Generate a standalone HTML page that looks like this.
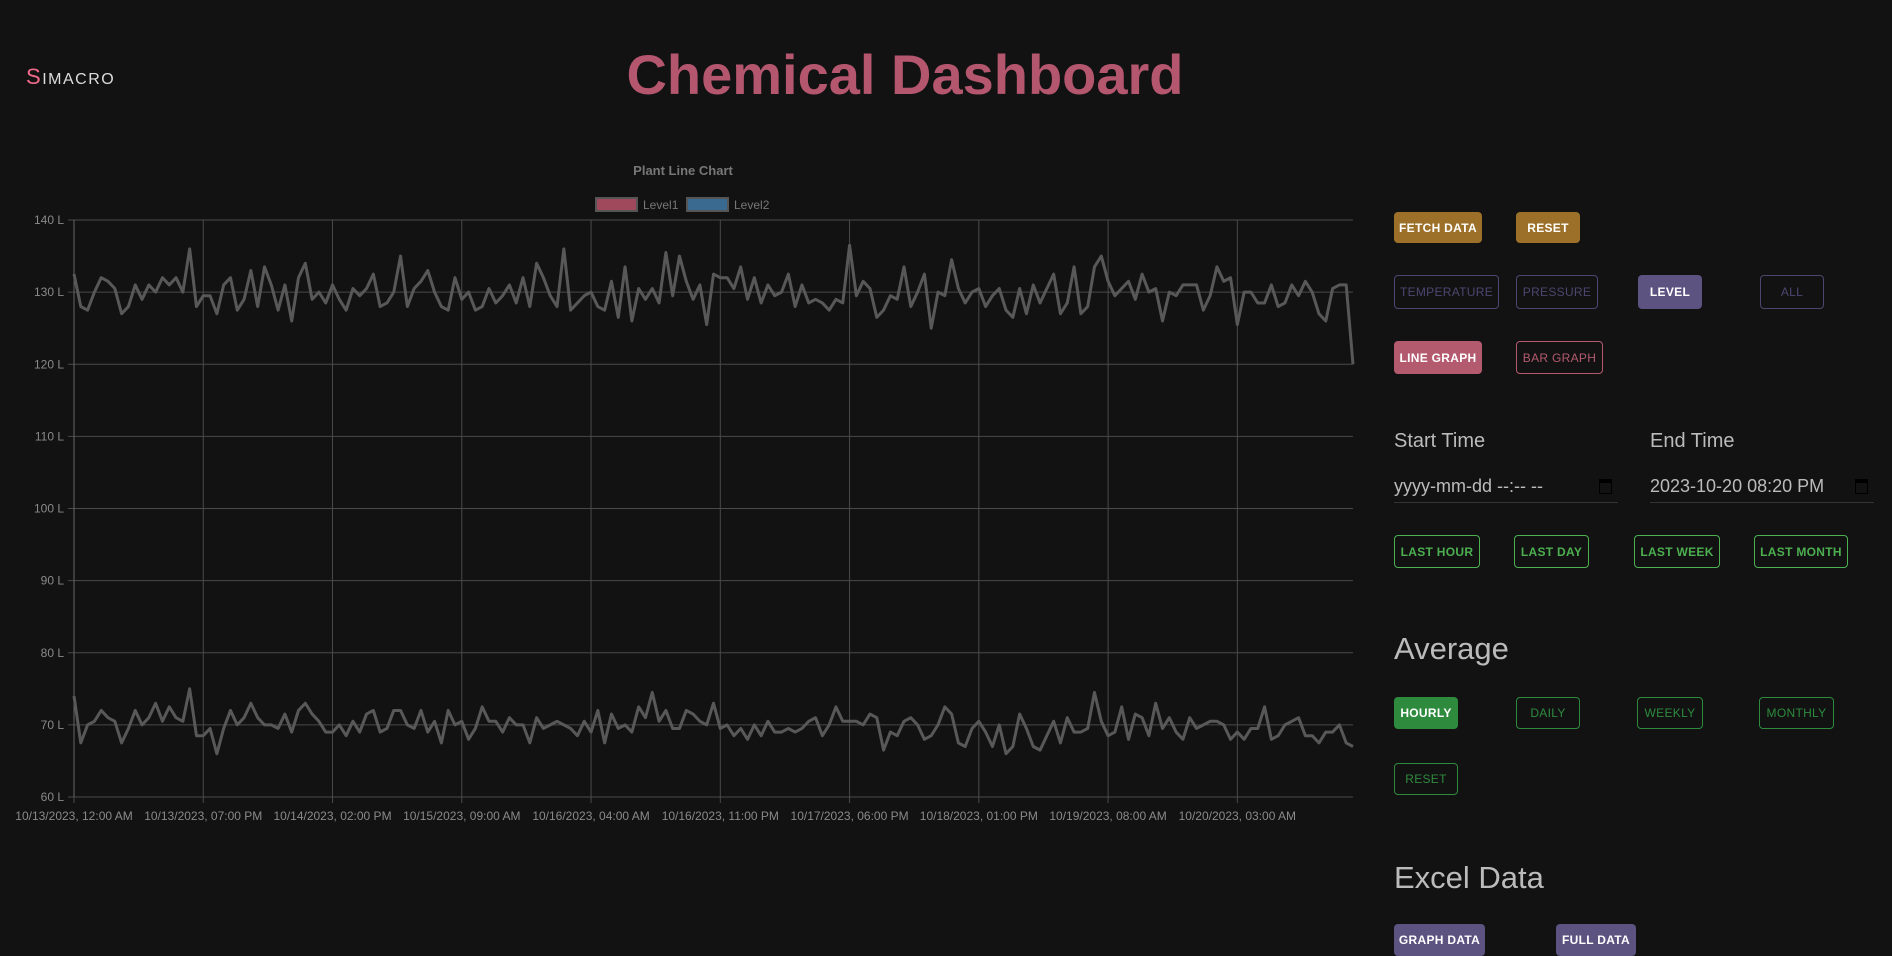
<!DOCTYPE html>
<html><head><meta charset="utf-8">
<style>
body{margin:0;width:1892px;height:946px;background:#121212;overflow:hidden;font-family:"Liberation Sans",sans-serif;position:relative}
.abs{position:absolute}
.btn{position:absolute;box-sizing:border-box;border-radius:4px;font-size:12px;font-weight:bold;display:flex;align-items:center;justify-content:center;letter-spacing:.3px}
.gold{background:#9c7028;color:#fff}
.pf{background:#5c5380;color:#fff}
.po{border:1.5px solid #4e4670;color:#4e4670;font-weight:normal}
.kf{background:#b35a6f;color:#fff}
.ko{border:1.5px solid #b35a6f;color:#b35a6f;font-weight:normal}
.go{border:1.5px solid #4caf50;color:#4caf50}
.gf{background:#2e8b3e;color:#fff}
.lbl{position:absolute;color:#bbb;font-size:20px}
.h2{position:absolute;color:#bbb;font-size:31px}
.inp{position:absolute;border-bottom:1px solid #333;color:#bbb;font-size:18px;height:34px;line-height:34px;box-sizing:border-box}
.cal{position:absolute;right:6px;top:10px;width:11px;height:10px;border:1.5px solid #000;border-top-width:4px}
</style></head><body>
<div class="abs" style="left:26px;top:64px;font-size:16px;color:#ddd;letter-spacing:1.5px"><span style="color:#f06b8a;font-size:22px">S</span>IMACRO</div>
<div class="abs" style="left:0;width:1810px;top:42px;text-align:center;font-size:56px;font-weight:bold;color:#b5566f">Chemical Dashboard</div>

<svg id="chart" class="abs" style="left:0;top:150px" width="1380" height="700"></svg>

<div class="btn gold" style="left:1394px;top:212px;width:88px;height:31px">FETCH DATA</div>
<div class="btn gold" style="left:1516px;top:212px;width:64px;height:31px">RESET</div>
<div class="btn po" style="left:1394px;top:275px;width:105px;height:34px">TEMPERATURE</div>
<div class="btn po" style="left:1516px;top:275px;width:82px;height:34px">PRESSURE</div>
<div class="btn pf" style="left:1638px;top:275px;width:64px;height:34px">LEVEL</div>
<div class="btn po" style="left:1760px;top:275px;width:64px;height:34px">ALL</div>
<div class="btn kf" style="left:1394px;top:341px;width:88px;height:33px">LINE GRAPH</div>
<div class="btn ko" style="left:1516px;top:341px;width:87px;height:33px">BAR GRAPH</div>

<div class="lbl" style="left:1394px;top:430px">Start Time</div>
<div class="lbl" style="left:1650px;top:430px">End Time</div>
<div class="inp" style="left:1394px;top:469px;width:224px">yyyy-mm-dd --:-- --<span class="cal"></span></div>
<div class="inp" style="left:1650px;top:469px;width:224px">2023-10-20 08:20 PM<span class="cal"></span></div>

<div class="btn go" style="left:1394px;top:535px;width:86px;height:33px">LAST HOUR</div>
<div class="btn go" style="left:1514px;top:535px;width:75px;height:33px">LAST DAY</div>
<div class="btn go" style="left:1634px;top:535px;width:86px;height:33px">LAST WEEK</div>
<div class="btn go" style="left:1754px;top:535px;width:94px;height:33px">LAST MONTH</div>

<div class="h2" style="left:1394px;top:631px">Average</div>
<div class="btn gf" style="left:1394px;top:697px;width:64px;height:32px">HOURLY</div>
<div class="btn go" style="left:1516px;top:697px;width:64px;height:32px;font-weight:normal;border-color:#2e8b3e;color:#2e8b3e">DAILY</div>
<div class="btn go" style="left:1637px;top:697px;width:66px;height:32px;font-weight:normal;border-color:#2e8b3e;color:#2e8b3e">WEEKLY</div>
<div class="btn go" style="left:1759px;top:697px;width:75px;height:32px;font-weight:normal;border-color:#2e8b3e;color:#2e8b3e">MONTHLY</div>
<div class="btn go" style="left:1394px;top:763px;width:64px;height:32px;font-weight:normal;border-color:#2e8b3e;color:#2e8b3e">RESET</div>

<div class="h2" style="left:1394px;top:860px">Excel Data</div>
<div class="btn pf" style="left:1394px;top:924px;width:91px;height:32px">GRAPH DATA</div>
<div class="btn pf" style="left:1556px;top:924px;width:80px;height:32px">FULL DATA</div>

<script>
const level1 = [
132.5,128,127.5,130,132,131.5,130.5,127,128,131,
129,131,130,132,131,132,130,136,128,129.5,
129.5,127,131,132,127.5,129,133,128,133.5,131,
127.5,131,126,132,134,129,130,128.5,131,129,
127.5,130.5,129.5,130.5,132.5,128,128.5,130,135,128,
130.5,131.5,133,130,128,127.5,132,129,130,127.5,
128,130.5,128.5,129.5,131,128.5,132,128,134,132,
129.5,128,136,127.5,128.5,129.5,130,128,127.5,131.5,
126.5,133.5,126,130.5,129,130.5,128.5,135.5,129.5,135,
131.5,129,131,125.5,132.5,132,132,130.5,133.5,129,
132,128.5,131,129.5,130,132.5,128,131,128.5,
129,128.5,127.5,129,128.5,136.5,129.5,131.5,130.5,126.5,
127.5,129.5,129,133.5,128,130,132.5,125,130,129.5,
134.5,130.5,128.5,130,130.5,128,129.5,130.5,127.5,
126.5,130.5,127,131,128.5,130.5,132.5,127,128.5,133.5,
127,128,133.5,135,131.5,129.5,130.5,131.5,129,132.5,
130,130.5,126,130,129.5,131,131,131,127.5,129.5,
133.5,131.5,132,125.5,130,130,128.5,128.5,131,128,
128.5,131,129.5,131.5,130,127,126,130.5,131,131,120];
const level2 = [
74,67.5,70,70.5,72,71,70.5,67.5,69.5,72,
70,71,73,70.5,72.5,71,70.5,75,68.5,68.5,
69.5,66,69.5,72,70,71,73,71,70,70,
69.5,71.5,69,72,73,71.5,70.5,69,69,70,
68.5,70.5,69,71.5,72,69,69.5,72,72,70,
69.5,72,69,70.5,67.5,72,70,70.5,68,69.5,
72.5,70.5,70.5,69,71,70,70,67.5,71,69.5,
70,70.5,70,69.5,68.5,70.5,69,72,67.5,71.5,
69.5,70,69,72.5,71,74.5,70.5,72,69.5,69.5,
72,71.5,70.5,70,73,69.5,70,68.5,69.5,68,
70,68.5,70.5,69,69,69.5,69,69.5,70.5,71,
68.5,70,72.5,70.5,70.5,70.5,70,71.5,71,66.5,
69,68.5,70.5,71,70,68,68.5,70,72.5,71.5,
67.5,67,69.5,70.5,69,67,70,66,67,71.5,
69.5,67,66.5,68.5,70.5,67.5,71,69,69,69.5,
74.5,70.5,68.5,69,72.5,68,71.5,71,68.5,73,
69.5,71,69,68,71,69.5,70,70.5,70.5,70,
68,69,68,69.5,69.5,72.5,68,68.5,70,70.5,
71,68.5,68.5,67.5,69,69,70,67.5,67];
const yTicks = [60,70,80,90,100,110,120,130,140];
const xLabels = ["10/13/2023, 12:00 AM","10/13/2023, 07:00 PM","10/14/2023, 02:00 PM","10/15/2023, 09:00 AM","10/16/2023, 04:00 AM","10/16/2023, 11:00 PM","10/17/2023, 06:00 PM","10/18/2023, 01:00 PM","10/19/2023, 08:00 AM","10/20/2023, 03:00 AM"];
const tickStep = 19;
const seriesNames = ["Level1","Level2"];

const NS="http://www.w3.org/2000/svg";
const svg=document.getElementById('chart');
const OY=150, L=74, R=1353, T=220-OY, B=797-OY;
const N=Math.max(level1.length,level2.length);
const xs=i=>L+i*(R-L)/(N-1);
const ys=v=>B-(v-60)*(B-T)/80;
function mk(tag,at,txt){const e=document.createElementNS(NS,tag);for(const k in at)e.setAttribute(k,at[k]);if(txt!=null)e.textContent=txt;svg.appendChild(e);return e;}
yTicks.forEach(v=>{
  const g=mk('line',{x1:L-6,x2:R,y1:ys(v),y2:ys(v),stroke:'#4a4a4a','stroke-width':1});
  
  
  const t=mk('text',{x:L-10,y:ys(v)+4,'text-anchor':'end','font-size':12,fill:'#8a8a8a','font-family':'Liberation Sans'},v+' L');
  
  
});
xLabels.forEach((s,k)=>{
  const x=xs(k*tickStep);
  const g=mk('line',{x1:x,x2:x,y1:T,y2:B+6,stroke:'#4a4a4a','stroke-width':1});
  
  
  const t=mk('text',{x:x,y:B+23,'text-anchor':'middle','font-size':12,fill:'#8a8a8a','font-family':'Liberation Sans'},s);
  
  
});
mk('line',{x1:L,x2:L,y1:T,y2:B,stroke:'#666'});
[level1,level2].forEach((arr,si)=>{
  const p=mk('polyline',{points:arr.map((v,i)=>xs(i)+','+ys(v)).join(' '),fill:'none',stroke:'#585858','stroke-width':3,'stroke-linejoin':'round'});
  
  
});
const ct=mk('text',{x:683,y:25,'text-anchor':'middle','font-size':13,'font-weight':'bold',fill:'#777','font-family':'Liberation Sans'},'Plant Line Chart');


const leg=[[596,'#8a3a4d','#a0485c'],[687,'#245678','#3a6a90']];
seriesNames.forEach((n,i)=>{
  const r=mk('rect',{x:leg[i][0],y:48,width:41,height:13,fill:leg[i][2],stroke:'#555','stroke-width':2});
  
  
  const t=mk('text',{x:leg[i][0]+47,y:59,'font-size':12,fill:'#777','font-family':'Liberation Sans'},n);
  
  
});
</script>
</body></html>
